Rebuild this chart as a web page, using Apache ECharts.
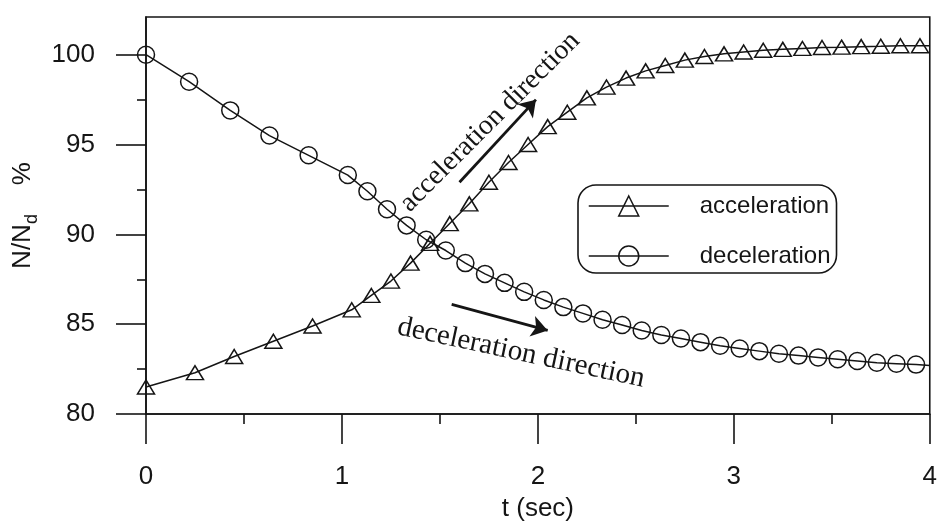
<!DOCTYPE html>
<html><head><meta charset="utf-8">
<script src="https://cdn.jsdelivr.net/npm/echarts@6/dist/echarts.min.js"></script>
<style>html,body{margin:0;padding:0;background:#fff}#c{width:940px;height:527px}</style>
</head><body><div id="c"></div>
<script>
// ---- data ----
const accelT = [0, 0.25, 0.45, 0.65, 0.85, 1.05, 1.15, 1.25, 1.35, 1.45, 1.55, 1.65, 1.75, 1.85, 1.95, 2.05, 2.15, 2.25, 2.35, 2.45, 2.55, 2.65, 2.75, 2.85, 2.95, 3.05, 3.15, 3.25, 3.35, 3.45, 3.55, 3.65, 3.75, 3.85, 3.95];
const accelV = [81.5, 82.3, 83.2, 84.05, 84.9, 85.8, 86.6, 87.4, 88.4, 89.5, 90.6, 91.7, 92.9, 94.0, 95.0, 96.0, 96.8, 97.6, 98.2, 98.7, 99.1, 99.4, 99.7, 99.9, 100.05, 100.15, 100.25, 100.3, 100.35, 100.4, 100.42, 100.45, 100.47, 100.5, 100.5];
const decelT = [0, 0.22, 0.43, 0.63, 0.83, 1.03, 1.13, 1.23, 1.33, 1.43, 1.53, 1.63, 1.73, 1.83, 1.93, 2.03, 2.13, 2.23, 2.33, 2.43, 2.53, 2.63, 2.73, 2.83, 2.93, 3.03, 3.13, 3.23, 3.33, 3.43, 3.53, 3.63, 3.73, 3.83, 3.93];
const decelV = [100.0, 98.5, 96.9, 95.5, 94.4, 93.3, 92.4, 91.4, 90.5, 89.7, 89.1, 88.4, 87.8, 87.3, 86.8, 86.35, 85.95, 85.6, 85.25, 84.95, 84.65, 84.4, 84.2, 84.0, 83.8, 83.65, 83.5, 83.35, 83.25, 83.15, 83.05, 82.95, 82.85, 82.8, 82.75];
const lineEndT = 4.0;
const accelEndV = 100.5;
const decelEndV = 82.7;
const xTicks = [0, 1, 2, 3, 4];
const yTicks = [80, 85, 90, 95, 100];
const yMinorTicks = [82.5, 87.5, 92.5, 97.5];
const accelArrow = [[1.60, 92.9], [1.99, 97.5]];
const decelArrow = [[1.56, 86.1], [2.05, 84.65]];
const seriesNames = ['acceleration', 'deceleration'];
const accelNote = 'acceleration direction';
const decelNote = 'deceleration direction';

// ---- chart ----
const INK = '#151515';
const SANS = '"Liberation Sans", Arial, sans-serif';
const SERIF = '"Liberation Serif", "Times New Roman", serif';
const chart = echarts.init(document.getElementById('c'));

function pts(ts, vs, endV) {
  const d = ts.map((t, i) => [t, vs[i]]);
  d.push({ value: [lineEndT, endV], symbol: 'none' });
  return d;
}
function arrow(a) {
  return [[{ coord: a[0] }, { coord: a[1] }]];
}
const axisLineStyle = { color: INK, width: 1.6 };

chart.setOption({
  animation: false,
  backgroundColor: '#fff',
  grid: { left: 146, right: 9, top: 17, bottom: 111, show: true, borderColor: INK, borderWidth: 1.6, backgroundColor: 'transparent' },
  xAxis: {
    type: 'value', min: 0, max: 4, interval: 1,
    axisLine: { lineStyle: axisLineStyle },
    axisTick: { length: 30, lineStyle: axisLineStyle, customValues: xTicks },
    minorTick: { show: true, splitNumber: 2, length: 10, lineStyle: axisLineStyle },
    splitLine: { show: false }, minorSplitLine: { show: false },
    axisLabel: { margin: 50, fontSize: 26, color: INK, fontFamily: SANS, customValues: xTicks },
    name: 't (sec)', nameLocation: 'middle', nameGap: 82,
    nameTextStyle: { fontSize: 26, color: INK, fontFamily: SANS }
  },
  yAxis: [{
    type: 'value', min: 80, max: 102.1, interval: 5,
    axisLine: { lineStyle: axisLineStyle },
    axisTick: { length: 30, lineStyle: axisLineStyle, customValues: yTicks },
    splitLine: { show: false },
    axisLabel: { margin: 51, fontSize: 26, color: INK, fontFamily: SANS, customValues: yTicks },
    name: '{a|N/N}{b|d}{a|    %}', nameLocation: 'middle', nameGap: 97,
    nameTextStyle: {
      rich: {
        a: { fontSize: 26, color: INK, fontFamily: SANS, lineHeight: 36 },
        b: { fontSize: 18, color: INK, fontFamily: SANS, lineHeight: 18, verticalAlign: 'bottom' }
      }
    }
  }, {
    type: 'value', min: 80, max: 102.1, position: 'left',
    axisLine: { show: false },
    axisTick: { length: 9, lineStyle: axisLineStyle, customValues: yMinorTicks },
    axisLabel: { show: false },
    splitLine: { show: false }
  }],
  legend: {
    orient: 'vertical', left: 578, top: 185,
    padding: [6, 6, 2, 10],
    itemWidth: 80, itemHeight: 25, itemGap: 20,
    borderColor: INK, borderWidth: 1.6, borderRadius: 18,
    selectedMode: false,
    data: seriesNames,
    textStyle: { fontSize: 24, color: INK, fontFamily: SANS, padding: [0, 0, 0, 26], lineHeight: 30 },
    itemStyle: { color: 'transparent', borderColor: INK, borderWidth: 1.5 },
    lineStyle: { color: INK, width: 1.5 }
  },
  graphic: [
    { type: 'text', x: 490, y: 122, rotation: 0.785, silent: true,
      style: { text: accelNote, fontSize: 28, fontFamily: SERIF, fill: INK, align: 'center', verticalAlign: 'middle' } },
    { type: 'text', x: 521, y: 353, rotation: -0.211, silent: true,
      style: { text: decelNote, fontSize: 29, fontFamily: SERIF, fill: INK, align: 'center', verticalAlign: 'middle' } }
  ],
  series: [{
    name: seriesNames[0], type: 'line', yAxisIndex: 0,
    data: pts(accelT, accelV, accelEndV),
    symbol: 'triangle', symbolSize: [17, 14],
    itemStyle: { color: 'transparent', borderColor: INK, borderWidth: 1.5 },
    lineStyle: { color: INK, width: 1.5 },
    emphasis: { disabled: true },
    markLine: {
      silent: true, symbol: ['none', 'arrow'], symbolSize: 16,
      label: { show: false },
      lineStyle: { color: INK, width: 2.8, type: 'solid' },
      emphasis: { disabled: true },
      data: arrow(accelArrow)
    }
  }, {
    name: seriesNames[1], type: 'line', yAxisIndex: 0,
    data: pts(decelT, decelV, decelEndV),
    symbol: 'circle', symbolSize: 17,
    itemStyle: { color: 'transparent', borderColor: INK, borderWidth: 1.5 },
    lineStyle: { color: INK, width: 1.5 },
    emphasis: { disabled: true },
    markLine: {
      silent: true, symbol: ['none', 'arrow'], symbolSize: 16,
      label: { show: false },
      lineStyle: { color: INK, width: 2.8, type: 'solid' },
      emphasis: { disabled: true },
      data: arrow(decelArrow)
    }
  }]
});
</script>
</body></html>
